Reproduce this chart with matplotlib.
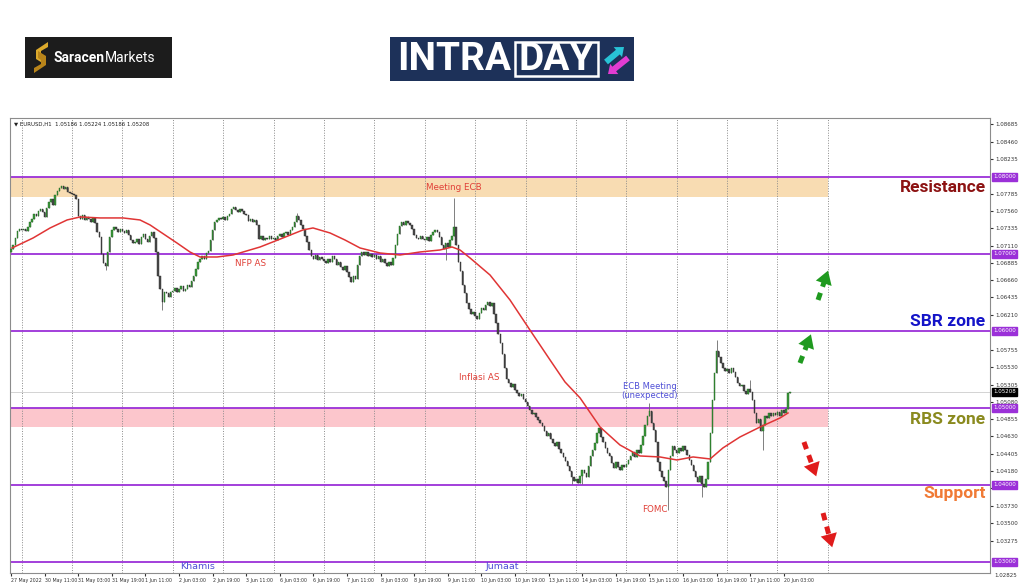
import numpy as np
import pandas as pd
import matplotlib
matplotlib.use("Agg")
import matplotlib.pyplot as plt
from matplotlib.patches import Rectangle, Polygon, FancyArrow

# EURUSD H1 closes, 27 May 2022 19:00 -> 20 Jun 2022 06:00
close = [
    1.0706, 1.0712, 1.0721, 1.0730, 1.0733,                                    # 27 May
    1.0731, 1.0733, 1.0730, 1.0735, 1.0741, 1.0746, 1.0752, 1.0749, 1.0756, 1.0758, 1.0754, 1.0748,
    1.0760, 1.0768, 1.0771, 1.0764, 1.0776, 1.0782, 1.0786, 1.0788, 1.0785, 1.0787, 1.0781, 1.0779,  # 30 May
    1.0778, 1.0776, 1.0772, 1.0749, 1.0746, 1.0750, 1.0744, 1.0748, 1.0745, 1.0742, 1.0747, 1.0740,
    1.0728, 1.0722, 1.0700, 1.0688, 1.0684, 1.0703, 1.0722, 1.0731, 1.0735, 1.0733, 1.0729, 1.0732,  # 31 May
    1.0730, 1.0727, 1.0731, 1.0725, 1.0718, 1.0714, 1.0716, 1.0719, 1.0713, 1.0722, 1.0726, 1.0720,
    1.0715, 1.0724, 1.0728, 1.0721, 1.0703, 1.0672, 1.0655, 1.0638, 1.0651, 1.0649, 1.0644, 1.0650,  # 1 Jun
    1.0652, 1.0656, 1.0650, 1.0654, 1.0658, 1.0652, 1.0655, 1.0660, 1.0657, 1.0665, 1.0672, 1.0680,
    1.0689, 1.0694, 1.0698, 1.0693, 1.0701, 1.0704, 1.0718, 1.0731, 1.0742, 1.0744, 1.0747, 1.0745,  # 2 Jun
    1.0748, 1.0744, 1.0749, 1.0752, 1.0759, 1.0761, 1.0757, 1.0754, 1.0758, 1.0756, 1.0752, 1.0750,
    1.0743, 1.0745, 1.0741, 1.0744, 1.0738, 1.0720, 1.0724, 1.0718, 1.0721, 1.0719, 1.0723, 1.0720,  # 3 Jun
    1.0721, 1.0718, 1.0723, 1.0726, 1.0722, 1.0727, 1.0729, 1.0725, 1.0731, 1.0735, 1.0742, 1.0749,
    1.0744, 1.0738, 1.0733, 1.0724, 1.0716, 1.0705, 1.0697, 1.0694, 1.0699, 1.0692, 1.0696, 1.0693,  # 6 Jun
    1.0691, 1.0688, 1.0694, 1.0690, 1.0697, 1.0693, 1.0686, 1.0690, 1.0683, 1.0679, 1.0685, 1.0676,
    1.0670, 1.0664, 1.0672, 1.0668, 1.0686, 1.0697, 1.0703, 1.0699, 1.0702, 1.0698, 1.0700, 1.0696,  # 7 Jun
    1.0699, 1.0694, 1.0697, 1.0690, 1.0693, 1.0688, 1.0684, 1.0690, 1.0686, 1.0695, 1.0712, 1.0726,
    1.0736, 1.0741, 1.0738, 1.0743, 1.0740, 1.0737, 1.0733, 1.0725, 1.0721, 1.0719, 1.0723, 1.0720,  # 8 Jun
    1.0718, 1.0722, 1.0717, 1.0725, 1.0729, 1.0731, 1.0728, 1.0722, 1.0712, 1.0706, 1.0714, 1.0709,
    1.0718, 1.0724, 1.0735, 1.0712, 1.0690, 1.0678, 1.0660, 1.0649, 1.0636, 1.0628, 1.0622, 1.0625,  # 9 Jun
    1.0620, 1.0616, 1.0624, 1.0630, 1.0627, 1.0634, 1.0638, 1.0633, 1.0636, 1.0622, 1.0610, 1.0596,
    1.0585, 1.0570, 1.0552, 1.0538, 1.0532, 1.0527, 1.0531, 1.0524, 1.0520, 1.0515, 1.0518, 1.0512,  # 10 Jun
    1.0508, 1.0503, 1.0497, 1.0492, 1.0494, 1.0488, 1.0484, 1.0480, 1.0476, 1.0470, 1.0463, 1.0467,
    1.0460, 1.0455, 1.0451, 1.0456, 1.0447, 1.0442, 1.0436, 1.0431, 1.0425, 1.0418, 1.0410, 1.0405,  # 13 Jun
    1.0408, 1.0403, 1.0412, 1.0420, 1.0416, 1.0410, 1.0425, 1.0438, 1.0446, 1.0455, 1.0468, 1.0474,
    1.0462, 1.0456, 1.0448, 1.0441, 1.0437, 1.0428, 1.0422, 1.0430, 1.0424, 1.0419, 1.0426, 1.0423,  # 14 Jun
    1.0427, 1.0432, 1.0438, 1.0443, 1.0436, 1.0445, 1.0441, 1.0452, 1.0464, 1.0478, 1.0490, 1.0496,
    1.0481, 1.0472, 1.0456, 1.0430, 1.0418, 1.0410, 1.0405, 1.0398, 1.0420, 1.0438, 1.0450, 1.0446,  # 15 Jun
    1.0441, 1.0448, 1.0444, 1.0450, 1.0446, 1.0439, 1.0432, 1.0426, 1.0418, 1.0410, 1.0404, 1.0412,
    1.0401, 1.0397, 1.0408, 1.0430, 1.0468, 1.0510, 1.0545, 1.0574, 1.0566, 1.0558, 1.0552, 1.0548,  # 16 Jun
    1.0550, 1.0546, 1.0552, 1.0547, 1.0540, 1.0533, 1.0528, 1.0530, 1.0522, 1.0518, 1.0525, 1.0521,
    1.0510, 1.0494, 1.0480, 1.0486, 1.0470, 1.0478, 1.0490, 1.0487, 1.0493, 1.0489, 1.0494, 1.0491,  # 17 Jun
    1.0495, 1.0490, 1.0497, 1.0493, 1.0499, 1.0519, 1.05208,                    # 20 Jun
]
first_open = 1.0703

# bars with long wicks
spike_high = {136: 1.0753, 211: 1.0773, 304: 1.0507, 336: 1.0588, 352: 1.0536}
spike_low = {45: 1.0679, 72: 1.0627, 207: 1.0692, 267: 1.0401, 272: 1.0401,
             313: 1.0368, 329: 1.0384, 358: 1.0446}

# red moving average, read as (bar, price)
ma_bar = [0.5, 10.5, 18.6, 26.7, 32.9, 42.4, 53.3, 61.4, 66.2, 73.3, 79, 85.2, 90, 98.1,
          105.7, 118.6, 129.5, 139, 143.8, 151.9, 159, 166.2, 175.7, 185.2, 194.8, 204.3,
          210, 213.8, 218.6, 228.1, 237.6, 247.1, 256.7, 263.8, 271, 280.5, 290, 299.5,
          309, 317.1, 324.8, 332.9, 339, 347.1, 356.7, 366.2, 370]
ma_val = [1.07078, 1.07208, 1.07338, 1.07442, 1.07481, 1.07468, 1.07468, 1.07442, 1.07377,
          1.07247, 1.07143, 1.07026, 1.06961, 1.06961, 1.06987, 1.07091, 1.07208, 1.07312,
          1.07338, 1.07273, 1.07182, 1.07078, 1.07013, 1.06987, 1.07026, 1.07052, 1.07091,
          1.07052, 1.06948, 1.06727, 1.06403, 1.06013, 1.05623, 1.05338, 1.05130, 1.04753,
          1.04519, 1.04377, 1.04364, 1.04325, 1.04364, 1.04338, 1.04481, 1.04623, 1.04753,
          1.04870, 1.04935]

levels = [1.08, 1.07, 1.06, 1.05, 1.04, 1.03]
resistance_zone = (1.0774, 1.0800)
rbs_zone = (1.04753, 1.0500)
last_price = 1.05208
price_ticks = [1.08685, 1.08460, 1.08235, 1.07785, 1.07560, 1.07335, 1.07110, 1.06885,
               1.06660, 1.06435, 1.06210, 1.05755, 1.05530, 1.05305, 1.05080, 1.04855,
               1.04630, 1.04405, 1.04180, 1.03955, 1.03730, 1.03500, 1.03275]

times = pd.date_range("2022-05-27 19:00", "2022-06-20 06:00", freq="h")
times = times[times.dayofweek < 5]

c = np.array(close)
o = np.r_[first_open, c[:-1]]
hi = np.maximum(o, c)
lo = np.minimum(o, c)
for k, v in spike_high.items():
    hi[k] = v
for k, v in spike_low.items():
    lo[k] = v
x = np.arange(len(c))

fig = plt.figure(figsize=(10.24, 5.87), dpi=100)

# ---------- logos (pixel coords) ----------
bg = fig.add_axes([0, 0, 1, 1])
bg.set_xlim(0, 1024)
bg.set_ylim(587, 0)
bg.axis("off")

bg.add_patch(Rectangle((25, 37), 147, 41, fc="#1c1c1c", ec="none"))
bg.add_patch(Polygon([(48, 42), (36, 50), (36, 59), (44, 64), (44, 57), (41, 55), (41, 51), (48, 47)],
                     fc="#dcaa2c", ec="none"))
bg.add_patch(Polygon([(34, 73), (46, 65), (46, 56), (38, 51), (38, 58), (41, 60), (41, 64), (34, 68)],
                     fc="#b8841a", ec="none"))
t1 = bg.text(54, 57.5, "Saracen", color="white", fontsize=10, fontweight="bold",
             family="Roboto", va="center", ha="left")
fig.canvas.draw()
ext = t1.get_window_extent()
x_end = bg.transData.inverted().transform((ext.x1, ext.y0))[0]
bg.text(x_end, 57.5, "Markets", color="white", fontsize=10, family="Roboto",
        va="center", ha="left")

bg.add_patch(Rectangle((390, 37), 244, 44, fc="#1d3159", ec="none"))
bg.text(397, 60, "INTRA", color="white", fontsize=28, fontweight="bold", family="Roboto",
        va="center", ha="left")
bg.add_patch(Rectangle((515, 42), 83, 34, fc="none", ec="white", lw=1.8))
bg.text(556.5, 60, "DAY", color="white", fontsize=28, fontweight="bold", family="Roboto",
        va="center", ha="center")
bg.add_patch(FancyArrow(606, 62, 18, -15, width=6, head_width=13, head_length=8,
                        fc="#28c3d6", ec="none", length_includes_head=True))
bg.add_patch(FancyArrow(628, 58, -20, 16, width=6, head_width=13, head_length=8,
                        fc="#e23cd2", ec="none", length_includes_head=True))

# ---------- chart ----------
ax = fig.add_axes([10 / 1024, 1 - 573 / 587, 980 / 1024, 455 / 587])
ax.set_xlim(-0.5, 466.2)
ax.set_ylim(1.02857, 1.08766)

day_starts = list(np.where(times.hour == 0)[0])
day_starts.append(day_starts[-1] + 24)
zone_end = day_starts[-1]

ax.fill_between([-0.5, zone_end], *resistance_zone, color="#f8dcb2", lw=0, zorder=0)
ax.fill_between([-0.5, zone_end], *rbs_zone, color="#fcc6cc", lw=0, zorder=0)
for d in day_starts:
    ax.axvline(d, color="#8a8a8a", lw=0.7, ls=(0, (1, 1.6)), zorder=1)
ax.axhline(last_price, color="#cccccc", lw=0.6, zorder=1)
for lv in levels:
    ax.axhline(lv, color="#9b30d8", lw=1.3, zorder=2)

up = c >= o
ax.vlines(x, lo, hi, color="#6a6a6a", lw=0.6, zorder=3)
body_h = np.maximum(np.abs(c - o), 0.00004)
ax.bar(x[up], body_h[up], bottom=np.minimum(o, c)[up], width=0.7,
       color="#3c9a3c", edgecolor="#1f5f1f", lw=0.3, zorder=4)
ax.bar(x[~up], body_h[~up], bottom=np.minimum(o, c)[~up], width=0.7,
       color="#4a4a4a", edgecolor="#2a2a2a", lw=0.3, zorder=4)

ax.plot(ma_bar, ma_val, color="#e03535", lw=1.1, zorder=5)

# event notes
red = "#e04038"
blue = "#4f4fd6"
ax.text(211, 1.07860, "Meeting ECB", color=red, fontsize=6.3, ha="center", va="center")
ax.text(114, 1.06880, "NFP AS", color=red, fontsize=6.3, ha="center", va="center")
ax.text(223, 1.05390, "Inflasi AS", color=red, fontsize=6.3, ha="center", va="center")
ax.text(304, 1.05221, "ECB Meeting\n(unexpected)", color=blue, fontsize=6.0, ha="center",
        va="center", linespacing=1.1)
ax.text(306.5, 1.03688, "FOMC", color=red, fontsize=6.3, ha="center", va="center")
ax.text(89, 1.02935, "Khamis", color=blue, fontsize=6.8, ha="center", va="center")
ax.text(234, 1.02935, "Jumaat", color=blue, fontsize=6.8, ha="center", va="center")
ax.text(0.004, 0.993, "\u25bc EURUSD,H1  1.05186 1.05224 1.05186 1.05208", transform=ax.transAxes,
        fontsize=3.9, va="top", ha="left", color="#222222")

# zone titles
yt = ax.get_yaxis_transform()
zone_titles = [("Resistance", 1.07857, "#8c1212"), ("SBR zone", 1.06117, "#1414c8"),
               ("RBS zone", 1.04844, "#8a8a1e"), ("Support", 1.03883, "#f07a35")]
for name, lv, col in zone_titles:
    ax.text(0.9955, lv, name, transform=yt, ha="right", va="center", color=col,
            fontsize=12.5, fontweight="bold", family="Roboto")

# dashed arrows
def dashed_arrow(tail, head, col):
    tx, ty = tail
    hx, hy = head
    px, py = tx + 0.72 * (hx - tx), ty + 0.72 * (hy - ty)
    ax.plot([tx, px], [ty, py], color=col, lw=3.6, ls=(0, (1.5, 1.3)),
            solid_capstyle="butt", zorder=6)
    ax.annotate("", xy=(hx, hy), xytext=(px, py),
                arrowprops=dict(arrowstyle="-|>,head_length=0.8,head_width=0.5",
                                color=col, lw=0, mutation_scale=12), zorder=6)

dashed_arrow((375.7, 1.05584), (381.4, 1.05990), "#1f9a1f")
dashed_arrow((384.3, 1.06403), (389.5, 1.06818), "#1f9a1f")
dashed_arrow((377.6, 1.04558), (383.9, 1.04078), "#e01b1b")
dashed_arrow((386.7, 1.03636), (391.4, 1.03156), "#e01b1b")

# axes / ticks, MT4 style
for s in ax.spines.values():
    s.set_color("#8c8c8c")
    s.set_linewidth(0.8)
ax.yaxis.tick_right()
ax.set_yticks(price_ticks)
ax.set_yticklabels([f"{v:.5f}" for v in price_ticks])
ax.tick_params(axis="y", labelsize=4.0, length=2, pad=2, colors="#333333")
ax.text(1.004, 1.02825, "1.02825", transform=yt, fontsize=4.0, color="#333333",
        va="center", ha="left", clip_on=False)

tick_bars = list(range(0, len(times), 16))
tick_labels = []
for k in tick_bars:
    t = times[k]
    if k == 0:
        tick_labels.append(f"{t.day} {t.strftime('%b %Y')}")
    else:
        tick_labels.append(f"{t.day} {t.strftime('%b %H:%M')}")
ax.set_xticks(tick_bars)
ax.set_xticklabels(tick_labels, ha="left")
ax.tick_params(axis="x", labelsize=3.4, length=2, pad=1.5, colors="#333333")

box = dict(boxstyle="square,pad=0.2", fc="#9b30d8", ec="#9b30d8")
for lv in levels:
    ax.text(1.003, lv, f"{lv:.5f}", transform=yt, fontsize=4.0, color="white",
            va="center", ha="left", bbox=box, clip_on=False, zorder=10)
ax.text(1.003, last_price, f"{last_price:.5f}", transform=yt, fontsize=4.0, color="white",
        va="center", ha="left", clip_on=False, zorder=10,
        bbox=dict(boxstyle="square,pad=0.2", fc="black", ec="black"))

fig.savefig("out.png", dpi=100)
